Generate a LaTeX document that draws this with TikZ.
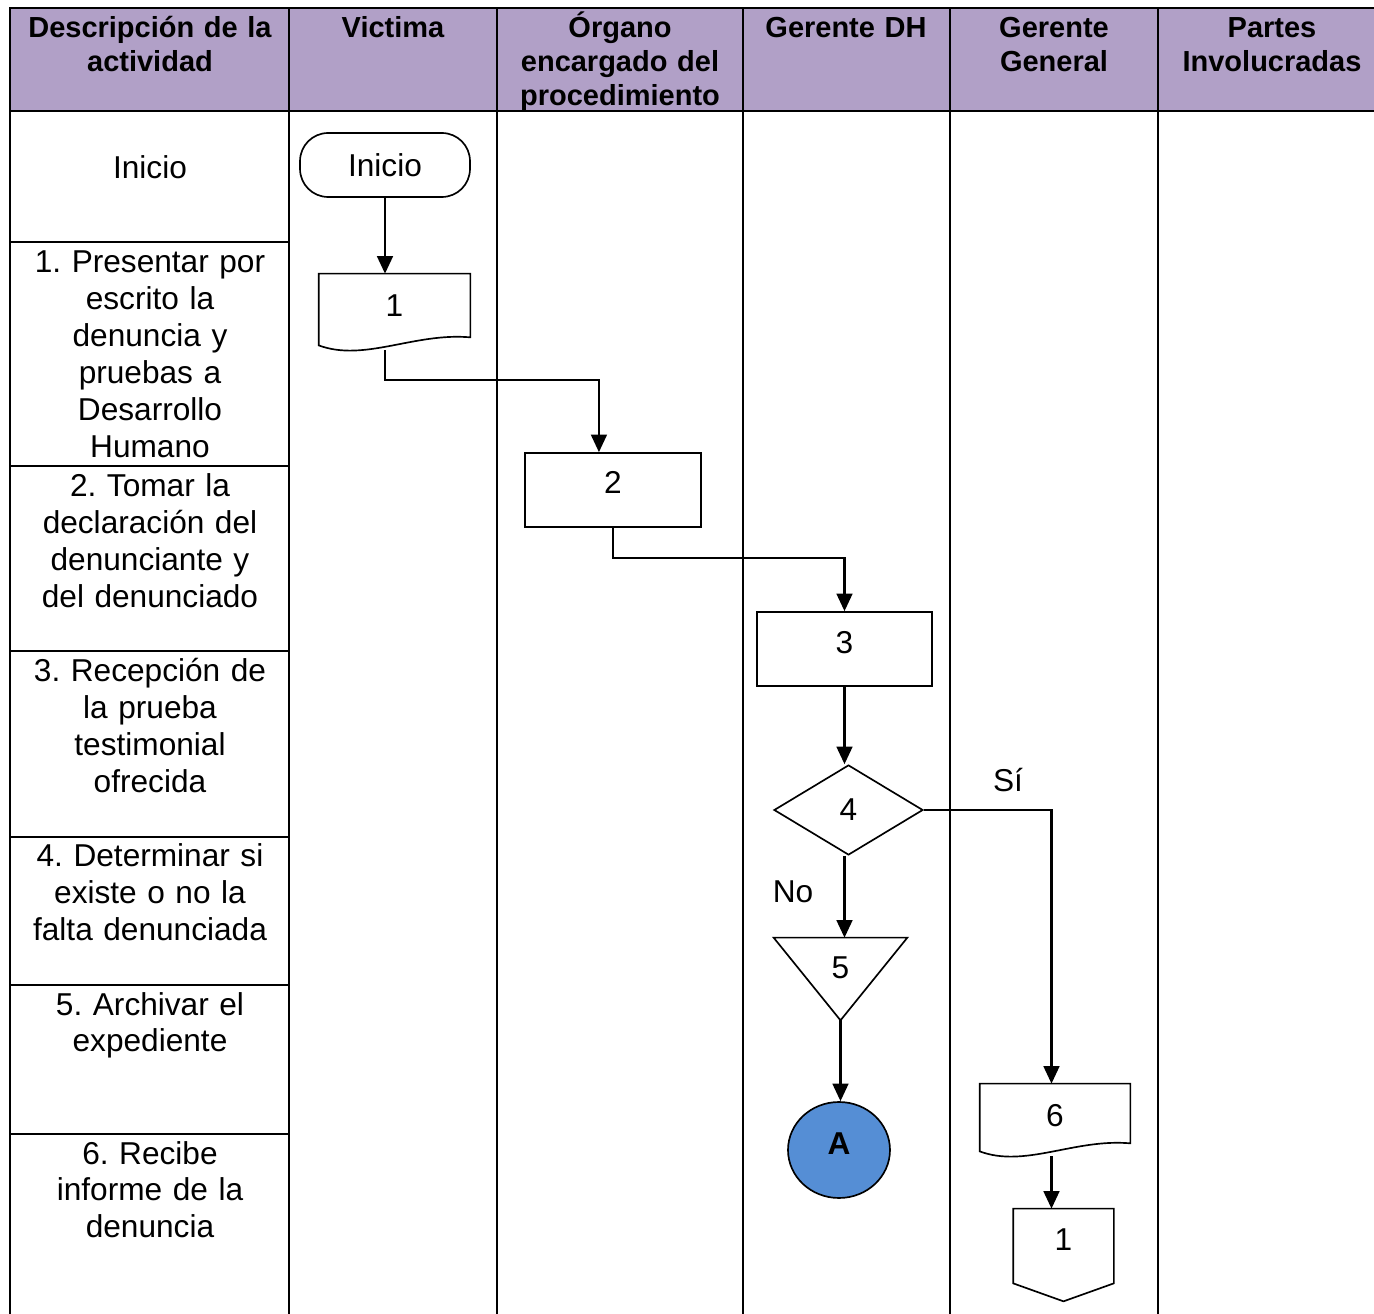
\documentclass[tikz,border=0pt]{standalone}
\usepackage{fontspec}
\setmainfont{Liberation Sans}
\usetikzlibrary{shapes.geometric,arrows.meta,calc}
\definecolor{headlila}{HTML}{B1A0C7}
\definecolor{conazul}{HTML}{558ED5}
\frenchspacing
\newcommand{\cuerpo}{\fontsize{18}{21}\selectfont}
\newcommand{\titfont}{\bfseries\fontsize{16.5}{19.3}\selectfont}
\newcommand{\docwave}[1]{%
  \draw[contorno] ($(#1.south west)+(0,-5)$) -- (#1.north west) -- (#1.north east)
    -- ($(#1.south east)+(0,-13)$)
    .. controls ($(#1.south west)!0.63!(#1.south east)+(0,-18)$)
    and ($(#1.south west)!0.3!(#1.south east)+(0,12)$) .. ($(#1.south west)+(0,-5)$) -- cycle;}
\begin{document}
\begin{tikzpicture}[x=0.02cm,y=-0.02cm,>={Triangle[length=10pt,width=9pt]},
  borde/.style={line width=1.7pt},
  linea/.style={line width=1.1pt},
  flecha/.style={->,line width=1.3pt},
  contorno/.style={line width=0.95pt},
  forma/.style={draw,line width=0.95pt,inner sep=0pt,font=\cuerpo},
  marco/.style={inner sep=0pt,font=\cuerpo},
  celda/.style={text width=5.2cm,align=center,anchor=base,inner sep=0pt,font=\cuerpo},
  titulo/.style={text width=5.2cm,align=center,anchor=base,inner sep=0pt,font=\titfont}]
 \useasboundingbox (0,0) rectangle (1374,1314);
 \fill[headlila] (10,8) rectangle (1374,111);
 \draw[borde] (1374,8) -- (10,8) -- (10,1314);
 \draw[borde] (10,111) -- (1374,111);
 \foreach \x in {289,497,743,950,1158} \draw[linea] (\x,8) -- (\x,1314);
 \foreach \y in {242,466,651,837,985,1134} \draw[linea] (10,\y) -- (289,\y);

 \node[titulo] (h1) at (150,38) {Descripción de la\\actividad};
 \node[titulo] (h2) at (393,38) {Victima};
 \node[titulo] (h3) at (620,38) {Órgano\\encargado del\\procedimiento};
 \node[titulo] (h4) at (846,38) {Gerente DH};
 \node[titulo] (h5) at (1054,38) {Gerente\\General};
 \node[titulo] (h6) at (1272,38) {Partes\\Involucradas};

 \node[celda] (t0) at (150,179) {Inicio};
 \node[celda] (t1) at (150,273) {1. Presentar por\\escrito la\\denuncia y\\pruebas a\\Desarrollo\\Humano};
 \node[celda] (t2) at (150,497) {2. Tomar la\\declaración del\\denunciante y\\del denunciado};
 \node[celda] (t3) at (150,682) {3. Recepción de\\la prueba\\testimonial\\ofrecida};
 \node[celda] (t4) at (150,867) {4. Determinar si\\existe o no la\\falta denunciada};
 \node[celda] (t5) at (150,1015) {5. Archivar el\\expediente};
 \node[celda] (t6) at (150,1164) {6. Recibe\\informe de la\\denuncia};

 \node[forma,rounded corners=16pt,minimum width=3.4cm,minimum height=1.28cm] (ini) at (385,165) {Inicio};
 \node[marco,minimum width=3.02cm,minimum height=1.52cm,text depth=6.8pt] (d1) at (394.5,312) {1};
 \node[forma,minimum width=3.52cm,minimum height=1.48cm,text depth=9pt] (b2) at (613,490) {2};
 \node[forma,minimum width=3.5cm,minimum height=1.48cm,text depth=8pt] (b3) at (844.5,649) {3};
 \node[forma,diamond,minimum width=2.98cm,minimum height=1.8cm] (dm) at (848.5,810) {4};
 \node[marco,minimum width=2.66cm,minimum height=1.64cm,text depth=12.5pt] (tr) at (840.5,979) {5};
 \node[forma,ellipse,fill=conazul,minimum width=2.04cm,minimum height=1.92cm,text depth=6.8pt,font=\cuerpo\bfseries] (ca) at (839,1150) {A};
 \node[marco,minimum width=3cm,minimum height=1.44cm,text depth=5.7pt] (d6) at (1055,1120) {6};
 \node[marco,minimum width=2cm,minimum height=1.84cm,text depth=17pt] (op) at (1063.5,1255) {1};

 \docwave{d1}
 \docwave{d6}
 \draw[contorno] (tr.north west) -- (tr.north east) -- (tr.south) -- cycle;
 \draw[contorno] (op.north west) -- (op.north east) -- ($(op.south east)+(0,-18)$) -- (op.south)
   -- ($(op.south west)+(0,-18)$) -- cycle;

 \draw[flecha] (ini.south) -- (ini.south |- d1.north);
 \draw[flecha] (ini.south |- d1.south) -- ++(0,30) -| ([xshift=-8pt]b2.north);
 \draw[flecha] (b2.south) -- ++(0,30) -| (b3.north);
 \draw[flecha] (b3.south) -- (b3.south |- dm.north);
 \draw[flecha] (dm.east) -| ([xshift=-2pt]d6.north);
 \draw[flecha] (b3.south |- dm.south) -- (b3.south |- tr.north);
 \draw[flecha] (tr.south) -- (tr.south |- ca.north);
 \draw[flecha] ([xshift=-2pt]d6.south) -- ([xshift=-2pt]d6.south |- op.north);

 \node[font=\cuerpo] (si) at (1008,780) {Sí};
 \node[font=\cuerpo] (no) at (793,892) {No};
\end{tikzpicture}
\end{document}
